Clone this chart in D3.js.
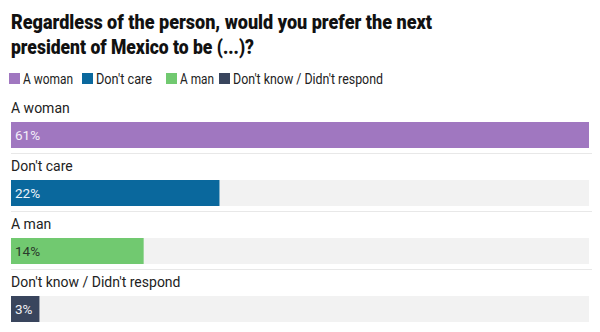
<!DOCTYPE html>
<html><head><meta charset="utf-8">
<script src="https://cdn.jsdelivr.net/npm/d3@7"></script>
<style>
html,body{margin:0;padding:0;background:#fff;}
svg{display:block;font-family:Roboto,"Liberation Sans",sans-serif;}
</style></head>
<body><svg id="c" width="600" height="332"></svg>
<script>
const titleLines = ["Regardless of the person, would you prefer the next", "president of Mexico to be (...)?"];
const categories = ["A woman", "Don't care", "A man", "Don't know / Didn't respond"];
const values = [61, 22, 14, 3];
const colors = ["#a077c0", "#0a689d", "#71c970", "#39455d"];
const labelColors = ["#f4eefa", "#eef4fa", "#2b3a2b", "#f0f0f4"];

const svg = d3.select("#c");

// Title
const tw = [421, 243];
svg.selectAll("text.title").data(titleLines).join("text")
  .attr("class","title")
  .attr("x", 11).attr("y", (d,i)=>29 + i*25)
  .attr("font-size", 20.5).attr("font-weight", 900).attr("fill", "#111")
  .attr("textLength", (d,i)=>tw[i]).attr("lengthAdjust","spacingAndGlyphs")
  .text(d=>d);

// Legend
const legendX = [9, 82, 166, 219];
const legendW = [50, 56, 34, 150];
const lg = svg.selectAll("g.lg").data(categories).join("g").attr("class","lg")
  .attr("transform",(d,i)=>`translate(${legendX[i]},73)`);
lg.append("rect").attr("width",11).attr("height",11).attr("fill",(d,i)=>colors[i]);
lg.append("text").attr("x",14).attr("y",10.5).attr("font-size",14).attr("fill","#222")
  .attr("textLength",(d,i)=>legendW[i]).attr("lengthAdjust","spacingAndGlyphs")
  .text(d=>d);

// Scales
const x = d3.scaleLinear().domain([0, d3.max(values)]).range([11, 589]);
const y = d3.scaleBand().domain(categories).range([96, 328]).padding(0);

const rows = svg.selectAll("g.row").data(categories).join("g").attr("class","row")
  .attr("transform", d=>`translate(0,${y(d)})`);

rows.append("text").attr("x", 11).attr("y", 17).attr("font-size", 14).attr("fill", "#222")
  .text(d=>d);
rows.append("rect").attr("x", x(0)).attr("y", 26).attr("height", 26)
  .attr("width", x(d3.max(values)) - x(0)).attr("fill", "#f2f2f2");
rows.append("rect").attr("x", x(0)).attr("y", 26).attr("height", 26)
  .attr("width", (d,i)=>x(values[i]) - x(0)).attr("fill", (d,i)=>colors[i]);
rows.append("text").attr("x", 15).attr("y", 43.5).attr("font-size", 13.5)
  .attr("fill", (d,i)=>labelColors[i]).text((d,i)=>values[i] + "%");
rows.filter((d,i)=>i < categories.length-1).append("line")
  .attr("x1", 11).attr("x2", 592).attr("y1", 57.5).attr("y2", 57.5)
  .attr("stroke", "#e8e8e8").attr("stroke-width", 1);
</script></body></html>
